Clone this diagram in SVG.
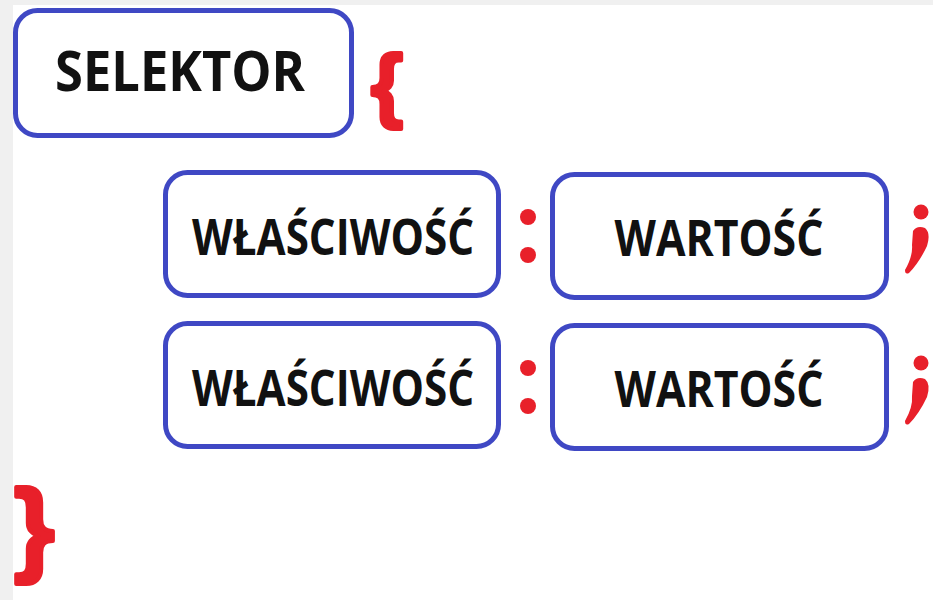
<svg xmlns="http://www.w3.org/2000/svg" width="933" height="600" viewBox="0 0 933 600">
<style>
.box{fill:#ffffff;stroke:#3f48c4;stroke-width:5}
.lbl{font-family:"Open Sans","Liberation Sans",sans-serif;font-weight:700;fill:#111111;text-anchor:middle}
.red{fill:#e8202a}
.brace{font-family:"Liberation Sans","DejaVu Sans",sans-serif;font-weight:700;fill:#e8202a;stroke:#e8202a;stroke-width:4;stroke-linejoin:round}
</style>
<defs>
<path id="comma" class="red" d="M913 231 Q917 225 925 228 Q931 233 927 246 Q919 263 909 273 Q905 275 905 270 Q913 256 912 245 Z"/>
</defs>
<rect x="0" y="0" width="933" height="600" fill="#f0f0f0"/>
<rect x="13" y="5" width="920" height="595" fill="#ffffff"/>
<g id="selektor">
<rect class="box" x="15.5" y="10.5" width="336" height="125" rx="22"/>
<text class="lbl" x="180" y="91" font-size="55" textLength="250" lengthAdjust="spacingAndGlyphs">SELEKTOR</text>
</g>
<g id="brace-open"><text class="brace" x="371" y="112" font-size="82">{</text></g>
<g id="prop1">
<rect class="box" x="165.5" y="172.5" width="333" height="123" rx="22"/>
<text class="lbl" x="333" y="255" font-size="50" textLength="282" lengthAdjust="spacingAndGlyphs">WŁAŚCIWOŚĆ</text>
</g>
<g id="colon1"><circle class="red" cx="528" cy="217" r="8"/><circle class="red" cx="528" cy="255" r="8"/></g>
<g id="val1">
<rect class="box" x="552.5" y="174.5" width="334" height="123" rx="22"/>
<text class="lbl" x="719" y="256" font-size="50" textLength="209" lengthAdjust="spacingAndGlyphs">WARTOŚĆ</text>
</g>
<g id="semi1"><circle class="red" cx="921" cy="212" r="7.5"/><use href="#comma"/></g>
<g id="prop2">
<rect class="box" x="165.5" y="323.5" width="333" height="123" rx="22"/>
<text class="lbl" x="333" y="406" font-size="50" textLength="282" lengthAdjust="spacingAndGlyphs">WŁAŚCIWOŚĆ</text>
</g>
<g id="colon2"><circle class="red" cx="528" cy="368" r="8"/><circle class="red" cx="528" cy="406" r="8"/></g>
<g id="val2">
<rect class="box" x="552.5" y="325.5" width="334" height="123" rx="22"/>
<text class="lbl" x="719" y="407" font-size="50" textLength="209" lengthAdjust="spacingAndGlyphs">WARTOŚĆ</text>
</g>
<g id="semi2"><circle class="red" cx="921" cy="363" r="7.5"/><use href="#comma" y="151"/></g>
<g id="brace-close"><text class="brace" x="14" y="562" font-size="104">}</text></g>
<g id="connectors"></g>
</svg>
